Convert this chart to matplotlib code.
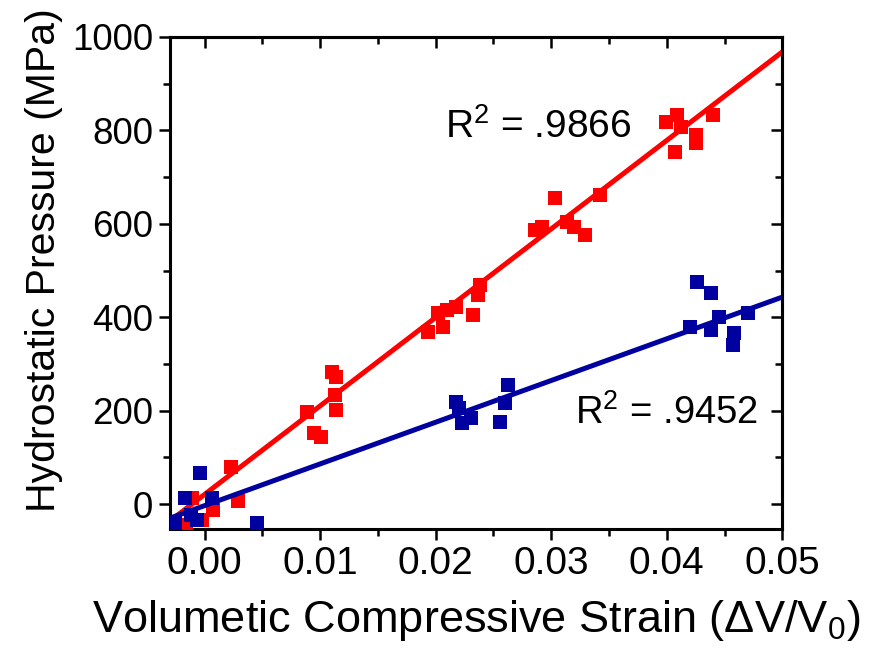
import numpy as np
import matplotlib
matplotlib.use("Agg")
from matplotlib import pyplot as plt
from matplotlib.ticker import MultipleLocator, FormatStrFormatter

# red series (higher slope)
red_x = [0.0023, 0.0029, -0.0011, 0.0007, -0.0016, -0.0002,
         0.0110, 0.0114, 0.0113, 0.0114, 0.0089, 0.0095, 0.0101,
         0.0193, 0.0206, 0.0202, 0.0210, 0.0218, 0.0232, 0.0238, 0.0237,
         0.0286, 0.0292, 0.0303, 0.0314, 0.0320, 0.0329, 0.0342,
         0.0399, 0.0409, 0.0412, 0.0425, 0.0425, 0.0407, 0.0440]
red_y = [79, 6, 13, -13, -45, -34,
         283, 272, 233, 201, 197, 152, 143,
         368, 379, 409, 415, 422, 405, 469, 447,
         587, 593, 655, 604, 593, 576, 662,
         818, 833, 807, 790, 773, 754, 833]

# blue series (lower slope)
blue_x = [-0.0004, -0.0017, 0.0006, 0.0045, -0.0007, -0.0026, -0.0012,
          0.0218, 0.0220, 0.0223, 0.0231, 0.0263, 0.0260, 0.0256,
          0.0426, 0.0438, 0.0420, 0.0438, 0.0445, 0.0458, 0.0457, 0.0470]
blue_y = [66, 13, 13, -41, -34, -41, -22,
          218, 205, 173, 184, 255, 216, 176,
          475, 452, 380, 373, 400, 366, 340, 409]

# linear fits: slope (MPa per unit strain), intercept (MPa)
red_fit = (18940, 21)
blue_fit = (8925, -3)
red_r2 = "R$^2$ = .9866"
blue_r2 = "R$^2$ = .9452"

xlim = (-0.003, 0.05)
ylim = (-53, 1000)

plt.rcParams['font.family'] = ['Liberation Sans', 'DejaVu Sans']
plt.rcParams['mathtext.default'] = 'regular'

fig = plt.figure(figsize=(8.76, 6.6), dpi=100)
ax = fig.add_axes([0.194, 0.1985, 0.699, 0.7455])

red_c = '#FF0000'
blue_c = '#0000A0'

xs = np.array(xlim)
ax.plot(xs, red_fit[0] * xs + red_fit[1], color=red_c, lw=3.6, zorder=2)
ax.plot(red_x, red_y, 's', color=red_c, ms=10, mew=0, zorder=3)
ax.plot(xs, blue_fit[0] * xs + blue_fit[1], color=blue_c, lw=3.6, zorder=4)
ax.plot(blue_x, blue_y, 's', color=blue_c, ms=10, mew=0, zorder=5)

ax.set_xlim(*xlim)
ax.set_ylim(*ylim)

ax.xaxis.set_major_locator(MultipleLocator(0.01))
ax.xaxis.set_minor_locator(MultipleLocator(0.005))
ax.xaxis.set_major_formatter(FormatStrFormatter('%.2f'))
ax.yaxis.set_major_locator(MultipleLocator(200))
ax.yaxis.set_minor_locator(MultipleLocator(100))

for s in ax.spines.values():
    s.set_linewidth(2.2)

ax.tick_params(which='major', direction='out', length=8, width=1.8, pad=4)
ax.tick_params(axis='x', labelsize=28)
ax.tick_params(axis='y', labelsize=26.5)
ax.tick_params(which='minor', direction='out', length=5, width=1.8)

# inward ticks on top and right, no labels
top = ax.secondary_xaxis('top')
top.xaxis.set_major_locator(MultipleLocator(0.01))
top.xaxis.set_minor_locator(MultipleLocator(0.005))
top.tick_params(which='major', direction='in', length=8, width=1.8, labeltop=False)
top.tick_params(which='minor', direction='in', length=5, width=1.8)
top.spines['top'].set_linewidth(2.2)
right = ax.secondary_yaxis('right')
right.yaxis.set_major_locator(MultipleLocator(200))
right.yaxis.set_minor_locator(MultipleLocator(100))
right.tick_params(which='major', direction='in', length=8, width=1.8, labelright=False)
right.tick_params(which='minor', direction='in', length=5, width=1.8)
right.spines['right'].set_linewidth(2.2)

ax.set_xlabel("Volumetic Compressive Strain ($\\Delta$V/V$_0$)", fontsize=32.5, labelpad=12)
ax.set_ylabel("Hydrostatic Pressure (MPa)", fontsize=29.5, labelpad=8)
ax.yaxis.set_label_coords(-0.175, 0.547)

ax.text(0.0208, 807, red_r2, fontsize=28, ha='left', va='center')
ax.text(0.0321, 195, blue_r2, fontsize=27.5, ha='left', va='center')

fig.savefig("out.png", dpi=100)
